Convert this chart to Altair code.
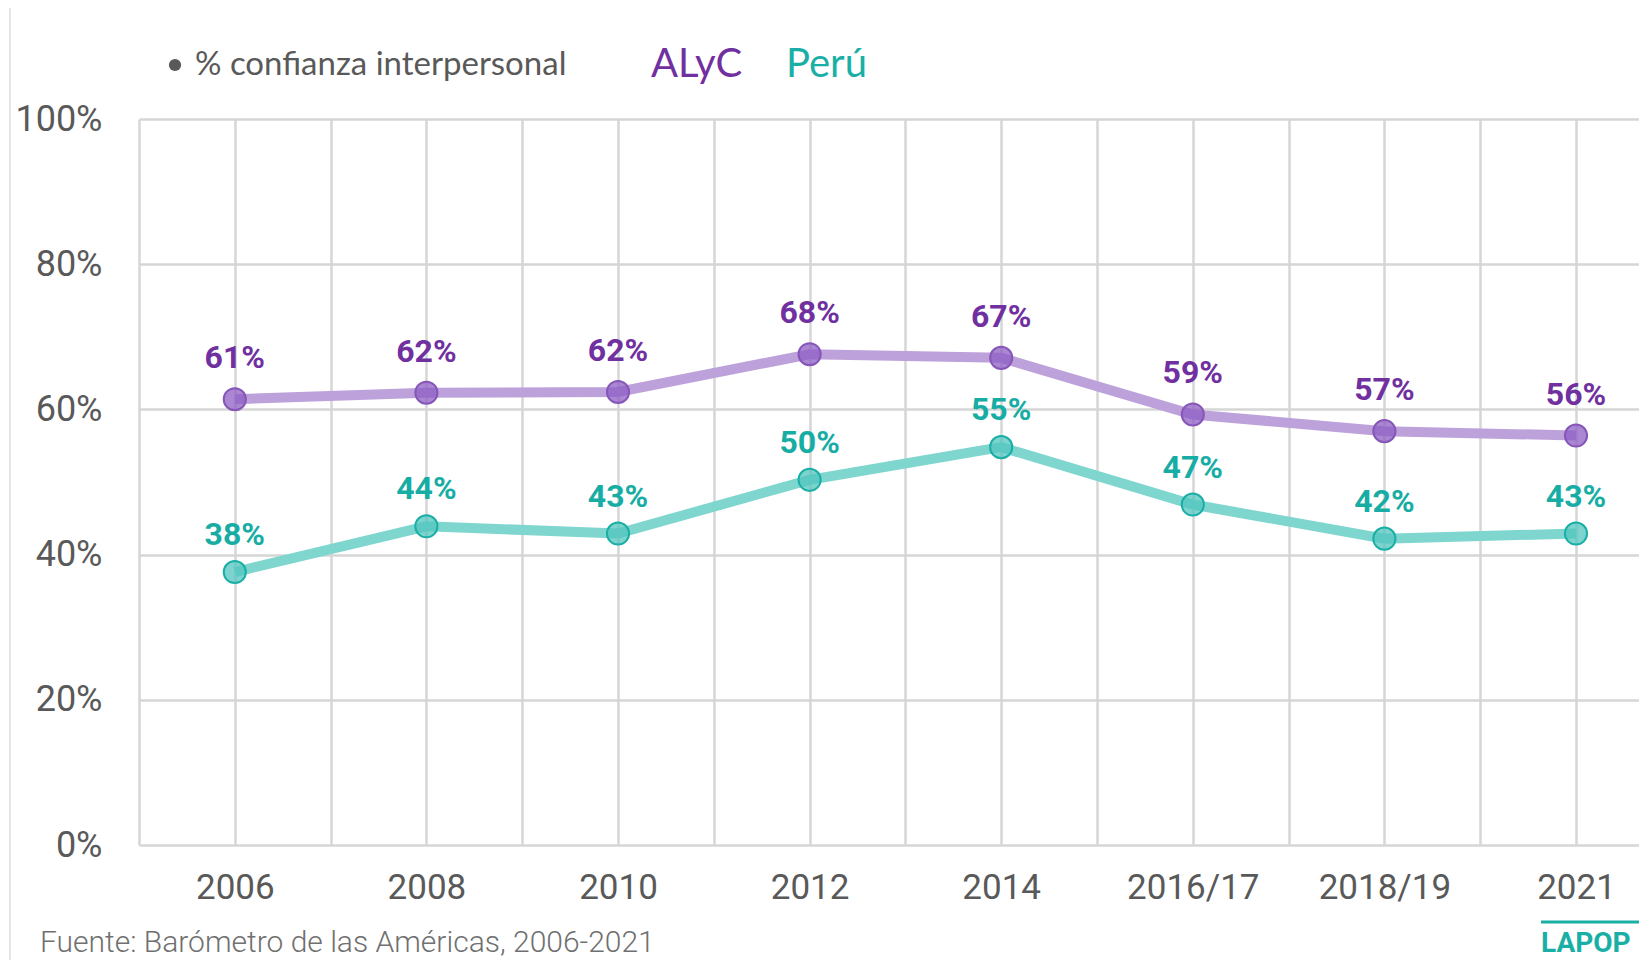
import json
import altair as alt
import pandas as pd

# ---- data ----
periods = ["2006", "2008", "2010", "2012", "2014", "2016/17", "2018/19", "2021"]
alyc = [61.4, 62.3, 62.4, 67.6, 67.1, 59.3, 57.0, 56.4]
peru = [37.6, 43.9, 42.9, 50.3, 54.8, 46.9, 42.2, 42.9]
y_ticks = [0, 20, 40, 60, 80, 100]

legend_text = "% confianza interpersonal"
series_names = ["ALyC", "Perú"]
source_text = "Fuente: Barómetro de las Américas, 2006-2021"
logo_text = "LAPOP"

# ---- styles ----
PURPLE = "#7030A0"
TEAL = "#17ADA4"
GRID = "#d6d6d6"
GRAYTXT = "#595959"

W, H = 1500, 726
step_px = 191.6
x_max = -0.5 + W / step_px

def make_df(vals):
    return pd.DataFrame({"idx": list(range(len(periods))), "period": periods, "value": vals})

labels_js = json.dumps(periods)
x_vals = [i / 2 for i in range(-1, 2 * len(periods) - 1)]

x_enc = alt.X(
    "idx:Q",
    scale=alt.Scale(domain=[-0.5, x_max], nice=False, zero=False),
    axis=alt.Axis(
        values=x_vals,
        labelExpr=f"datum.value % 1 === 0 ? {labels_js}[datum.value] : ''",
        title=None, ticks=False, domain=False, grid=True,
        gridColor=GRID, gridWidth=2.5,
        labelFont="Roboto", labelFontSize=35, labelColor=GRAYTXT,
        labelPadding=25, labelOverlap=False, labelFlush=False,
    ),
)
y_enc = alt.Y(
    "value:Q",
    scale=alt.Scale(domain=[0, 100], nice=False),
    axis=alt.Axis(
        values=y_ticks,
        labelExpr="datum.value + '%'",
        title=None, ticks=False, domain=False, grid=True,
        gridColor=GRID, gridWidth=2.5,
        labelFont="Roboto", labelFontSize=36, labelColor=GRAYTXT,
        labelPadding=37,
    ),
)

series = [
    (alyc, "#BDA1DA", "#8E5EC4", "#8656B8", PURPLE, -31),
    (peru, "#7ED6CF", "#52C6BE", "#1AAFA6", TEAL, -27),
]

layers = []
for vals, line_c, fill_c, stroke_c, text_c, dy in series:
    df = make_df(vals)
    base = alt.Chart(df).encode(x=x_enc, y=y_enc)
    layers.append(base.mark_line(color=line_c, strokeWidth=10))
for vals, line_c, fill_c, stroke_c, text_c, dy in series:
    df = make_df(vals)
    base = alt.Chart(df).encode(x=x_enc, y=y_enc)
    layers.append(base.mark_circle(size=490, fill=fill_c, fillOpacity=0.75,
                                   stroke=stroke_c, strokeWidth=2, opacity=1))
    layers.append(
        base.transform_calculate(label="format(datum.value, '.0f') + '%'")
        .mark_text(font="Roboto", fontWeight="bold", fontSize=32, color=text_c,
                   baseline="alphabetic", align="center", dy=dy)
        .encode(text="label:N")
    )

one = pd.DataFrame({"t": [legend_text]})

# header legend
layers.append(alt.Chart(one).mark_circle(size=150, color=GRAYTXT, opacity=1)
              .encode(x=alt.value(36), y=alt.value(-54)))
layers.append(alt.Chart(one).mark_text(font="Lato", fontSize=33, color=GRAYTXT,
                                       align="left", baseline="alphabetic")
              .encode(x=alt.value(56), y=alt.value(-44), text="t:N"))
layers.append(alt.Chart(pd.DataFrame({"t": [series_names[0]]}))
              .mark_text(font="Lato", fontSize=40, color=PURPLE, align="left", baseline="alphabetic")
              .encode(x=alt.value(512), y=alt.value(-42), text="t:N"))
layers.append(alt.Chart(pd.DataFrame({"t": [series_names[1]]}))
              .mark_text(font="Lato", fontSize=40, color="#1AAFA6", align="left", baseline="alphabetic")
              .encode(x=alt.value(647), y=alt.value(-42), text="t:N"))

# source note
layers.append(alt.Chart(pd.DataFrame({"t": [source_text]}))
              .mark_text(font="Roboto", fontWeight=300, fontSize=30, color="#707070",
                         align="left", baseline="alphabetic")
              .encode(x=alt.value(-99), y=alt.value(833), text="t:N"))

# faint left frame line
layers.append(alt.Chart(one).mark_rule(color="#dedede", strokeWidth=1.5)
              .encode(x=alt.value(-129), y=alt.value(-111), y2=alt.value(841)))

# LAPOP logo hint
layers.append(alt.Chart(one).mark_rule(color="#1AAFA6", strokeWidth=3)
              .encode(x=alt.value(1402), x2=alt.value(1500), y=alt.value(803)))
layers.append(alt.Chart(pd.DataFrame({"t": [logo_text]}))
              .mark_text(font="Roboto", fontWeight="bold", fontSize=28,
                         color="#1AAFA6", align="left", baseline="alphabetic")
              .encode(x=alt.value(1402), y=alt.value(833), text="t:N"))

chart = (
    alt.layer(*layers)
    .properties(
        width=W, height=H,
        autosize=alt.AutoSizeParams(type="none"),
        padding={"left": 131, "top": 111, "right": 0, "bottom": 115},
        background="white",
    )
    .configure_view(strokeWidth=0)
)

chart.save("out.html", embed_options={"renderer": "svg", "actions": False})
